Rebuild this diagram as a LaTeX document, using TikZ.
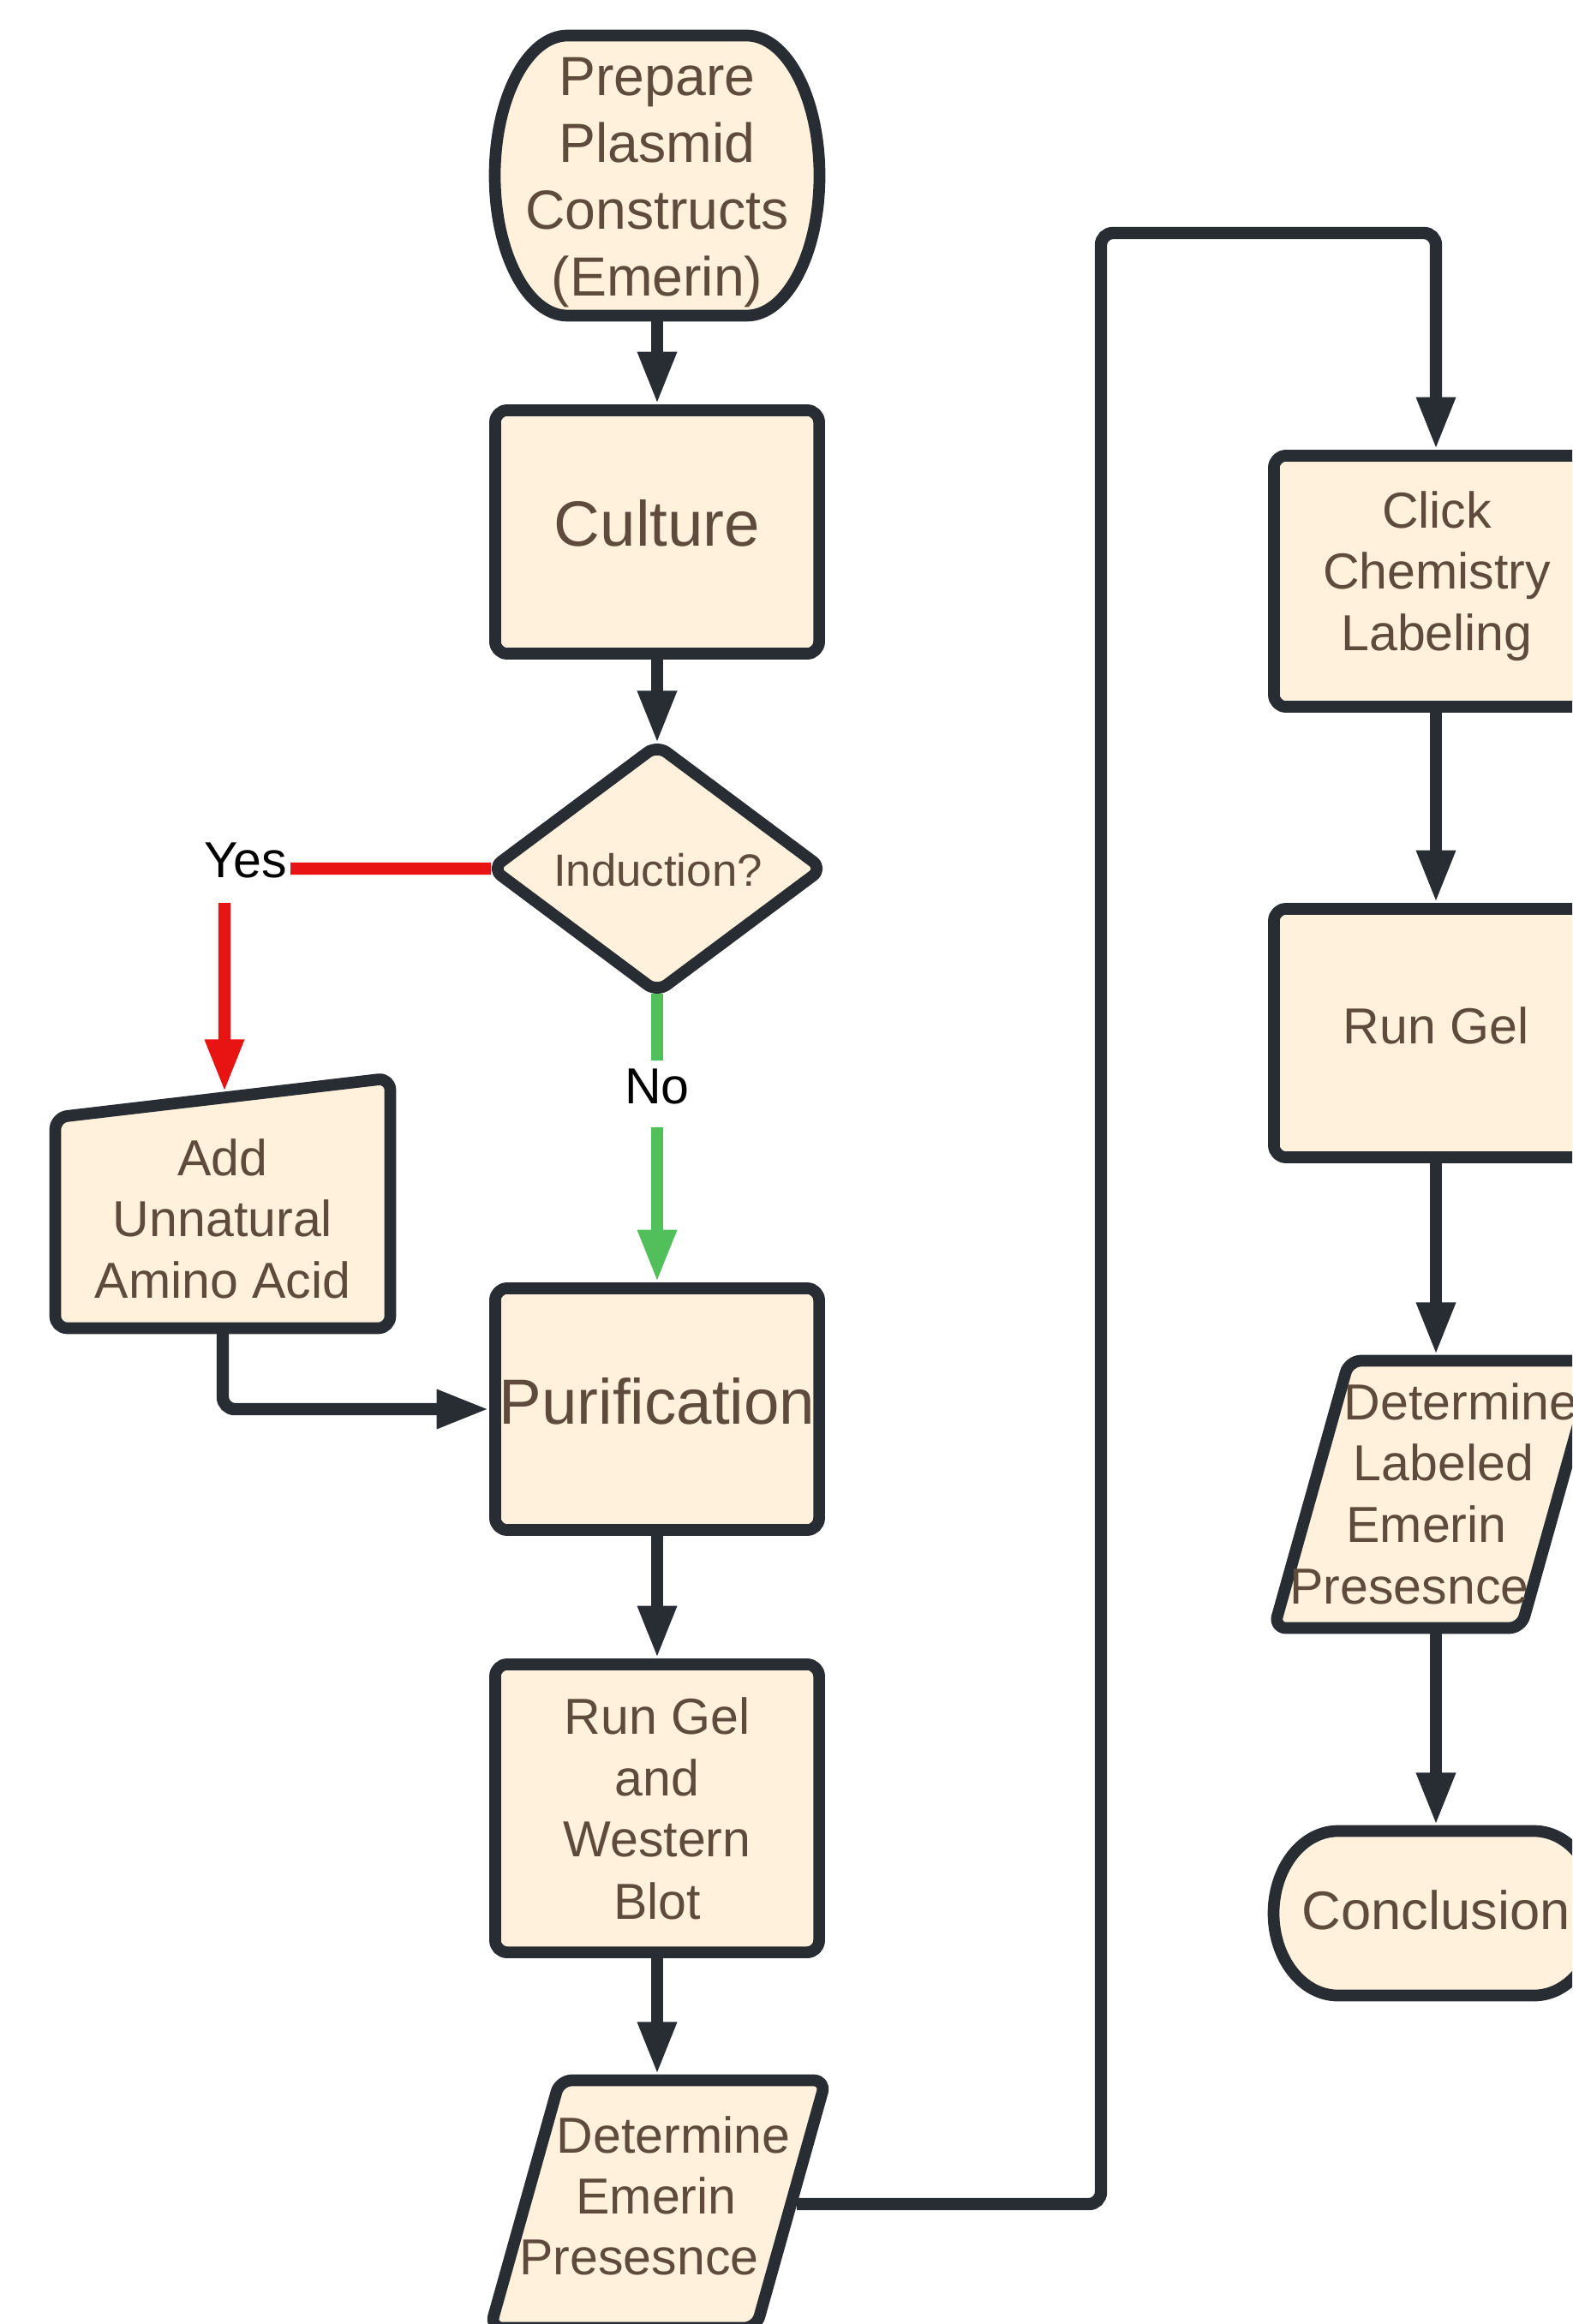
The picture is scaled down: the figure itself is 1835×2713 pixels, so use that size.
\documentclass[tikz,border=0pt]{standalone}
\usepackage{fontspec}
\setmainfont{Liberation Sans}
\usetikzlibrary{arrows.meta}
\definecolor{bord}{HTML}{282C33}
\definecolor{cream}{HTML}{FFF1DB}
\definecolor{tcol}{HTML}{5E4B3C}
\definecolor{redc}{HTML}{E81313}
\definecolor{greenc}{HTML}{52C05A}
\tikzset{
  shp/.style={draw=bord, fill=cream, line width=3.9pt, line join=round},
  rshp/.style={shp, rounded corners=4pt},
  box/.style={rshp, inner sep=0pt, minimum width=3.78cm},
  ghost/.style={inner sep=0pt, outer sep=0pt, draw=none},
  tipA/.style={-{Triangle[width=12pt,length=17.5pt]}},
  conn/.style={draw=bord, line width=4.1pt, rounded corners=4pt, tipA},
  rconn/.style={conn, draw=redc},
  gconn/.style={conn, draw=greenc},
  txtA/.style={text=tcol, inner sep=0pt, anchor=base, font=\fontsize{16.8pt}{20pt}\selectfont},
  txtP/.style={txtA, font=\fontsize{18.3pt}{22pt}\selectfont},
  txtC/.style={txtA, font=\fontsize{21.2pt}{25pt}\selectfont},
  txtD/.style={txtA, font=\fontsize{15pt}{18pt}\selectfont},
  txtE/.style={txtA, font=\fontsize{18pt}{22pt}\selectfont},
  lbl/.style={text=black, fill=white, inner sep=0pt, anchor=base, font=\fontsize{16.8pt}{20pt}\selectfont},
}
\begin{document}
\begin{tikzpicture}[x=0.01cm,y=-0.01cm]
\useasboundingbox (0,0) rectangle (1835,2713);
\clip (0,0) rectangle (1835,2713);

% ---------- left column ----------
% Prepare (terminator)
\node[ghost, minimum width=3.92cm, minimum height=3.40cm] (prep) at (767,205) {};
\draw[shp] (662.5,41.5) -- (871.5,41.5)
  arc[start angle=-90,end angle=90,x radius=85,y radius=163.5]
  -- (662.5,368.5)
  arc[start angle=90,end angle=270,x radius=85,y radius=163.5] -- cycle;
\node[txtP] (prep1) at (767,112) {Prepare};
\node[txtP] (prep2) at (767,190) {Plasmid};
\node[txtP] (prep3) at (767,268) {Constructs};
\node[txtP] (prep4) at (767,346) {(Emerin)};

% Culture
\node[box, minimum height=2.84cm] (cult) at (767,621) {};
\node[txtC] (cult1) at (767,638) {Culture};

% Induction diamond
\node[ghost, minimum width=3.88cm, minimum height=2.92cm] (dia) at (767,1014) {};
\draw[rshp] (863.5,942) -- (960,1014) -- (767,1158) -- (574,1014) -- (767,870) -- cycle;
\node[txtD] (dia1) at (768,1034) {Induction?};

% Add Unnatural Amino Acid (manual input)
\node[ghost, minimum width=4.04cm, minimum height=3.05cm] (add) at (260,1404.5) {};
\coordinate (addtop) at (262,1275);
\draw[rshp] (260,1550.5) -- (64.5,1550.5) -- (64.5,1304.5) -- (455.5,1258.5) -- (455.5,1550.5) -- cycle;
\node[txtA] (add1) at (260,1372) {Add};
\node[txtA] (add2) at (260,1443) {Unnatural};
\node[txtA] (add3) at (260,1515) {Amino Acid};

% Purification
\node[box, minimum height=2.82cm] (pur) at (767,1645) {};
\node[txtC] (pur1) at (767,1662) {Purification};

% Run Gel and Western Blot
\node[box, minimum height=3.36cm] (rgwb) at (767,2111) {};
\node[txtA] (rgwb1) at (767,2024) {Run Gel};
\node[txtA] (rgwb2) at (767,2096) {and};
\node[txtA] (rgwb3) at (767,2167) {Western};
\node[txtA] (rgwb4) at (767,2240) {Blot};

% Determine Emerin Presesnce (parallelogram)
\node[ghost, minimum width=4.08cm, minimum height=3.02cm] (dete) at (767,2573) {};
\coordinate (deteR) at (930,2573);
\draw[rshp] (808,2428.5) -- (963.7,2428.5) -- (882.7,2717.5) -- (572.3,2717.5) -- (653.3,2428.5) -- cycle;
\node[txtA] (dete1) at (786,2513) {Determine};
\node[txtA] (dete2) at (766,2584) {Emerin};
\node[txtA] (dete3) at (746,2655) {Presesnce};

% ---------- right column ----------
\node[box, minimum height=2.93cm] (click) at (1676,678.5) {};
\node[txtA] (click1) at (1677,617) {Click};
\node[txtA] (click2) at (1677,688) {Chemistry};
\node[txtA] (click3) at (1677,760) {Labeling};

\node[box, minimum height=2.90cm] (rgel) at (1676,1206) {};
\node[txtA] (rgel1) at (1676,1218) {Run Gel};

\node[ghost, minimum width=3.94cm, minimum height=3.25cm] (detl) at (1676,1744.5) {};
\draw[rshp] (1720,1588.5) -- (1863,1588.5) -- (1775.5,1900.5) -- (1487,1900.5) -- (1574.5,1588.5) -- cycle;
\node[txtA] (detl1) at (1705,1657) {Determine};
\node[txtA] (detl2) at (1685,1728) {Labeled};
\node[txtA] (detl3) at (1665,1800) {Emerin};
\node[txtA] (detl4) at (1645,1872) {Presesnce};

\node[ghost, minimum width=3.92cm, minimum height=2.05cm] (conc) at (1676,2233.5) {};
\draw[shp] (1561.5,2137.5) -- (1790.5,2137.5)
  arc[start angle=-90,end angle=90,x radius=75,y radius=96]
  -- (1561.5,2329.5)
  arc[start angle=90,end angle=270,x radius=75,y radius=96] -- cycle;
\node[txtE] (conc1) at (1676,2252) {Conclusion};

% ---------- connectors ----------
\draw[conn] (prep.south) -- (cult.north);
\draw[conn] (cult.south) -- (dia.north);
\draw[rconn] (dia.west) -| (addtop);
\draw[gconn] (dia.south) -- (pur.north);
\draw[conn] (add.south) |- (pur.west);
\draw[conn] (pur.south) -- (rgwb.north);
\draw[conn] (rgwb.south) -- (dete.north);
\coordinate (lpa) at (1285,272);
\draw[conn] (deteR) -| (lpa) -| (click.north);
\draw[conn] (click.south) -- (rgel.north);
\draw[conn] (rgel.south) -- (detl.north);
\draw[conn] (detl.south) -- (conc.north);

% ---------- branch labels ----------
\node[lbl, text height=20pt, text depth=8.5pt, inner xsep=1.2pt] (yes) at (287,1024) {Yes};
\node[lbl, text height=14.2pt, text depth=8pt] (no) at (767,1288) {No};
\end{tikzpicture}
\end{document}
